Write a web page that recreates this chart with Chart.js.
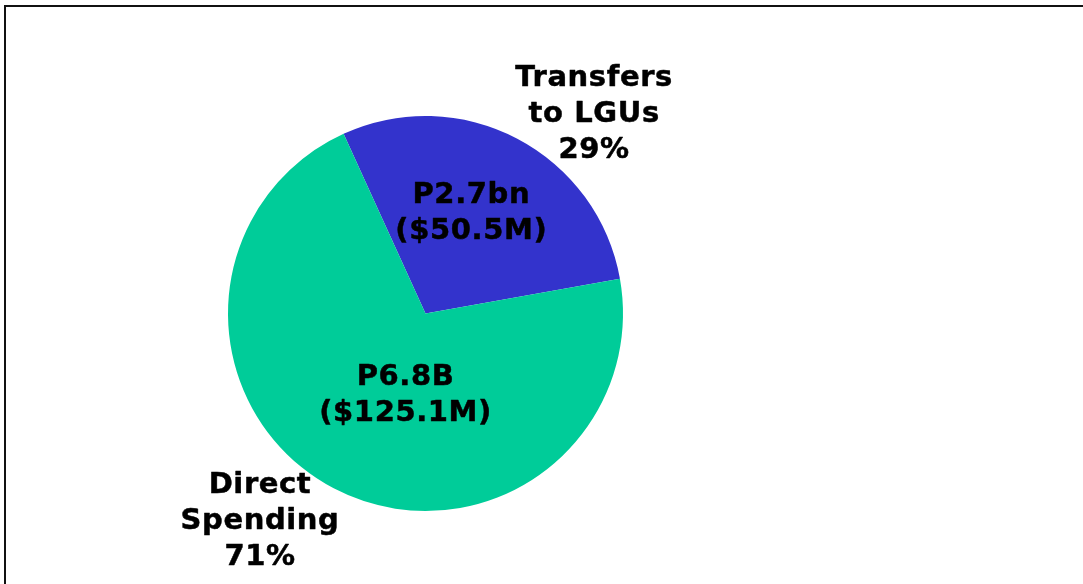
<!DOCTYPE html>
<html>
<head>
<meta charset="utf-8">
<script src="https://cdn.jsdelivr.net/npm/chart.js@4/dist/chart.umd.min.js"></script>
<style>
  html, body { margin: 0; padding: 0; background: #fff; overflow: hidden; }
  #wrap { position: relative; width: 1083px; height: 584px; }
  #frame { position: absolute; left: 4px; top: 5px; width: 1200px; height: 700px; border: 2px solid #111; box-sizing: border-box; }
  #c { position: absolute; left: 0; top: 0; }
</style>
</head>
<body>
<div id="wrap">
  <div id="frame"></div>
  <canvas id="c" width="1083" height="584"></canvas>
</div>
<script>
// категорії та значення (у відсотках)
const categories = ['Transfers to LGUs', 'Direct Spending'];
const shares = [29, 71];
const amounts = [['P2.7bn', '($50.5M)'], ['P6.8B', '($125.1M)']];
const outerNames = [['Transfers', 'to LGUs'], ['Direct', 'Spending']];
const colors = ['#3333CC', '#00CC99'];

// положення підписів відносно центру, в одиницях радіуса
const innerPos = [[0.232, -0.505], [-0.101, 0.415]];
const outerPos = [[0.854, -1.010], [-0.838, 1.053]];

const labelPlugin = {
  id: 'sliceLabels',
  afterDatasetsDraw(chart) {
    const ctx = chart.ctx;
    const arcs = chart.getDatasetMeta(0).data;
    ctx.save();
    ctx.fillStyle = '#000';
    ctx.strokeStyle = '#000';
    ctx.lineWidth = 0.5;
    ctx.lineJoin = 'round';
    ctx.font = 'bold 29px "DejaVu Sans", Verdana, sans-serif';
    ctx.letterSpacing = '0.6px';
    ctx.textAlign = 'center';
    ctx.textBaseline = 'middle';
    const lh = 36;
    const block = (lines, x, y) => {
      const top = y - (lines.length - 1) * lh / 2;
      lines.forEach((t, i) => {
        ctx.fillText(t, x, top + i * lh);
        ctx.strokeText(t, x, top + i * lh);
      });
    };
    arcs.forEach((arc, i) => {
      const r = arc.outerRadius;
      block(amounts[i], arc.x + innerPos[i][0] * r, arc.y + innerPos[i][1] * r);
      block(outerNames[i].concat([shares[i] + '%']),
        arc.x + outerPos[i][0] * r, arc.y + outerPos[i][1] * r);
    });
    ctx.restore();
  }
};

new Chart(document.getElementById('c').getContext('2d'), {
  type: 'pie',
  data: {
    labels: categories,
    datasets: [{
      data: shares,
      backgroundColor: colors,
      borderWidth: 0
    }]
  },
  options: {
    responsive: false,
    animation: false,
    rotation: -24.5,
    layout: { padding: { left: 226, right: 458, top: 116, bottom: 73 } },
    plugins: {
      legend: { display: false },
      tooltip: { enabled: false }
    }
  },
  plugins: [labelPlugin]
});
</script>
</body>
</html>
